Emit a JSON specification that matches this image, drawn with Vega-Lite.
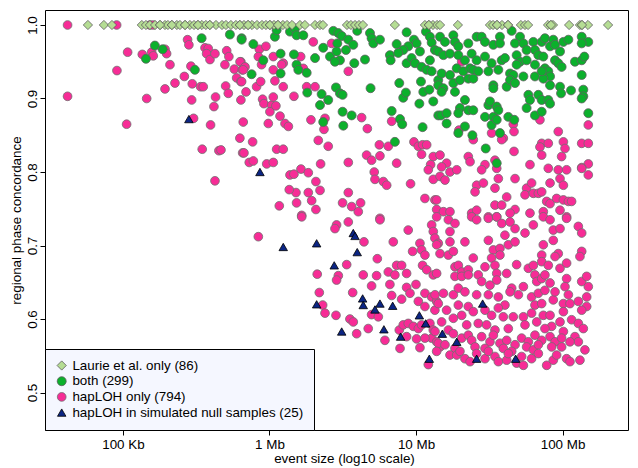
{
"$schema": "https://vega.github.io/schema/vega-lite/v6.json",
"width": 583, "height": 420,
"autosize": {"type": "none"},
"padding": {"left": 45, "top": 10, "right": 10, "bottom": 38},
"background": "white",
"config": {
 "font": "Liberation Sans",
 "view": {"stroke": "black", "strokeWidth": 1},
 "legend": {"orient": "bottom-left", "offset": 0, "fillColor": "#F5F7FF", "strokeColor": "black", "padding": 10, "labelOffset": 4, "rowPadding": 1.7, "clipHeight": 13, "labelFontSize": 13.4, "labelColor": "black", "labelFont": "Liberation Sans", "labelLimit": 400, "symbolStrokeWidth": 0.8}
},
"data": {"values": [
{"g":"H","size":4.622,"conc":1.0},{"g":"H","size":4.957,"conc":1.0},{"g":"H","size":5.184,"conc":1.0},{"g":"H","size":5.207,"conc":1.0},{"g":"H","size":4.622,"conc":0.903},{"g":"H","size":5.032,"conc":0.963},{"g":"H","size":4.959,"conc":0.938},{"g":"H","size":5.132,"conc":0.960},{"g":"H","size":5.196,"conc":0.963},{"g":"H","size":5.207,"conc":0.958},{"g":"H","size":5.287,"conc":0.967},{"g":"H","size":5.298,"conc":0.961},{"g":"H","size":5.321,"conc":0.946},{"g":"H","size":5.162,"conc":0.900},{"g":"H","size":5.025,"conc":0.865},{"g":"H","size":5.287,"conc":0.913},{"g":"H","size":5.355,"conc":0.921},{"g":"H","size":5.419,"conc":0.930},{"g":"H","size":5.441,"conc":0.980},{"g":"H","size":5.450,"conc":0.973},{"g":"H","size":5.464,"conc":0.944},{"g":"H","size":5.473,"conc":0.920},{"g":"H","size":5.469,"conc":0.898},{"g":"H","size":5.482,"conc":0.873},{"g":"H","size":5.530,"conc":0.916},{"g":"H","size":5.548,"conc":0.916},{"g":"H","size":5.560,"conc":0.969},{"g":"H","size":5.582,"conc":0.968},{"g":"H","size":5.571,"conc":0.961},{"g":"H","size":5.594,"conc":0.953},{"g":"H","size":5.628,"conc":0.961},{"g":"H","size":5.541,"conc":0.831},{"g":"H","size":5.598,"conc":0.864},{"g":"H","size":5.621,"conc":0.889},{"g":"H","size":5.632,"conc":0.902},{"g":"H","size":5.655,"conc":0.829},{"g":"H","size":5.669,"conc":0.830},{"g":"H","size":5.628,"conc":0.788},{"g":"H","size":5.696,"conc":0.946},{"g":"H","size":5.708,"conc":0.965},{"g":"H","size":5.723,"conc":0.957},{"g":"H","size":5.701,"conc":0.917},{"g":"H","size":5.719,"conc":0.907},{"g":"H","size":5.760,"conc":0.940},{"g":"H","size":5.776,"conc":0.928},{"g":"H","size":5.805,"conc":0.923},{"g":"H","size":5.805,"conc":0.950},{"g":"H","size":5.814,"conc":0.939},{"g":"H","size":5.805,"conc":0.898},{"g":"H","size":5.821,"conc":0.868},{"g":"H","size":5.798,"conc":0.846},{"g":"H","size":5.817,"conc":0.826},
{"g":"H","size":5.799,"conc":0.950},{"g":"H","size":5.833,"conc":0.943},{"g":"H","size":5.821,"conc":0.939},{"g":"H","size":5.810,"conc":0.923},{"g":"H","size":5.840,"conc":0.909},{"g":"H","size":5.931,"conc":0.967},{"g":"H","size":5.976,"conc":0.971},{"g":"H","size":5.924,"conc":0.957},{"g":"H","size":5.946,"conc":0.946},{"g":"H","size":5.912,"conc":0.916},{"g":"H","size":5.940,"conc":0.923},{"g":"H","size":6.026,"conc":0.957},{"g":"H","size":6.026,"conc":0.939},{"g":"H","size":6.037,"conc":0.924},{"g":"H","size":6.094,"conc":0.916},{"g":"H","size":6.094,"conc":0.948},{"g":"H","size":6.083,"conc":0.946},{"g":"H","size":5.953,"conc":0.899},{"g":"H","size":5.962,"conc":0.893},{"g":"H","size":6.015,"conc":0.891},{"g":"H","size":6.026,"conc":0.902},{"g":"H","size":6.003,"conc":0.882},{"g":"H","size":6.044,"conc":0.890},{"g":"H","size":6.072,"conc":0.876},{"g":"H","size":6.106,"conc":0.866},{"g":"H","size":6.129,"conc":0.862},{"g":"H","size":5.992,"conc":0.866},{"g":"H","size":5.885,"conc":0.841},{"g":"H","size":5.826,"conc":0.826},{"g":"H","size":5.862,"conc":0.813},{"g":"H","size":5.890,"conc":0.815},{"g":"H","size":5.981,"conc":0.811},{"g":"H","size":6.026,"conc":0.813},{"g":"H","size":6.049,"conc":0.831},{"g":"H","size":6.094,"conc":0.831},{"g":"H","size":6.213,"conc":0.957},{"g":"H","size":6.231,"conc":0.941},{"g":"H","size":6.167,"conc":0.903},{"g":"H","size":6.299,"conc":0.977},{"g":"H","size":6.424,"conc":0.975},{"g":"H","size":6.254,"conc":0.916},{"g":"H","size":6.311,"conc":0.916},{"g":"H","size":6.283,"conc":0.871},{"g":"H","size":6.379,"conc":0.873},{"g":"H","size":6.372,"conc":0.858},{"g":"H","size":6.333,"conc":0.843},{"g":"H","size":6.401,"conc":0.835},{"g":"H","size":6.538,"conc":0.937},{"g":"H","size":6.629,"conc":0.874},{"g":"H","size":6.668,"conc":0.859},{"g":"H","size":6.349,"conc":0.811},{"g":"H","size":6.538,"conc":0.813},{"g":"H","size":6.140,"conc":0.796},{"g":"H","size":6.167,"conc":0.797},{"g":"H","size":6.215,"conc":0.804},{"g":"H","size":6.265,"conc":0.799},{"g":"H","size":6.317,"conc":0.787},{"g":"H","size":6.345,"conc":0.775},{"g":"H","size":6.265,"conc":0.772},{"g":"H","size":6.181,"conc":0.772},{"g":"H","size":6.135,"conc":0.776},{"g":"H","size":6.288,"conc":0.761},{"g":"H","size":6.317,"conc":0.749},{"g":"H","size":6.185,"conc":0.758},{"g":"H","size":6.067,"conc":0.754},{"g":"H","size":6.220,"conc":0.741},{"g":"H","size":6.538,"conc":0.772},{"g":"H","size":6.499,"conc":0.758},{"g":"H","size":6.561,"conc":0.753},{"g":"H","size":6.622,"conc":0.758},{"g":"H","size":6.606,"conc":0.746},{"g":"H","size":6.663,"conc":0.823},{"g":"H","size":6.697,"conc":0.816},{"g":"H","size":6.754,"conc":0.822},{"g":"H","size":6.750,"conc":0.837},{"g":"H","size":6.811,"conc":0.835},{"g":"H","size":6.715,"conc":0.800},{"g":"H","size":6.720,"conc":0.790},{"g":"H","size":6.777,"conc":0.787},{"g":"H","size":6.800,"conc":0.782},{"g":"H","size":6.868,"conc":0.812},{"g":"H","size":6.963,"conc":0.784},{"g":"H","size":6.834,"conc":0.869},{"g":"H","size":6.986,"conc":0.841},{"g":"H","size":7.016,"conc":0.835},{"g":"H","size":7.045,"conc":0.837},{"g":"H","size":7.073,"conc":0.837},{"g":"H","size":7.038,"conc":0.824},{"g":"H","size":7.118,"conc":0.821},{"g":"H","size":7.100,"conc":0.810},{"g":"H","size":7.084,"conc":0.803},{"g":"H","size":7.118,"conc":0.790},{"g":"H","size":7.061,"conc":0.764},{"g":"H","size":7.129,"conc":0.762},{"g":"H","size":7.141,"conc":0.749},{"g":"H","size":6.754,"conc":0.737},
{"g":"H","size":7.312,"conc":0.950},{"g":"H","size":7.293,"conc":0.857},{"g":"H","size":7.391,"conc":0.844},{"g":"H","size":7.516,"conc":0.853},{"g":"H","size":7.596,"conc":0.846},{"g":"H","size":7.585,"conc":0.844},{"g":"H","size":7.664,"conc":0.865},{"g":"H","size":7.669,"conc":0.855},{"g":"H","size":7.669,"conc":0.828},{"g":"H","size":7.846,"conc":0.871},{"g":"H","size":7.971,"conc":0.855},{"g":"H","size":7.858,"conc":0.839},{"g":"H","size":7.846,"conc":0.834},{"g":"H","size":7.858,"conc":0.823},{"g":"H","size":7.903,"conc":0.839},{"g":"H","size":8.006,"conc":0.841},{"g":"H","size":8.017,"conc":0.832},{"g":"H","size":7.994,"conc":0.821},{"g":"H","size":8.131,"conc":0.839},{"g":"H","size":8.176,"conc":0.839},{"g":"H","size":8.176,"conc":0.864},{"g":"H","size":8.176,"conc":0.811},{"g":"H","size":8.131,"conc":0.806},{"g":"H","size":8.176,"conc":0.796},{"g":"H","size":7.164,"conc":0.823},{"g":"H","size":7.209,"conc":0.812},{"g":"H","size":7.175,"conc":0.807},{"g":"H","size":7.232,"conc":0.800},{"g":"H","size":7.278,"conc":0.803},{"g":"H","size":7.164,"conc":0.794},{"g":"H","size":7.198,"conc":0.789},{"g":"H","size":7.357,"conc":0.821},{"g":"H","size":7.369,"conc":0.814},{"g":"H","size":7.471,"conc":0.810},{"g":"H","size":7.448,"conc":0.803},{"g":"H","size":7.539,"conc":0.816},{"g":"H","size":7.551,"conc":0.805},{"g":"H","size":7.562,"conc":0.791},{"g":"H","size":7.676,"conc":0.791},{"g":"H","size":7.778,"conc":0.810},{"g":"H","size":7.903,"conc":0.805},{"g":"H","size":7.971,"conc":0.803},{"g":"H","size":8.028,"conc":0.803},{"g":"H","size":7.983,"conc":0.791},{"g":"H","size":8.006,"conc":0.782},{"g":"H","size":7.915,"conc":0.785},{"g":"H","size":8.131,"conc":0.805},{"g":"H","size":7.414,"conc":0.782},{"g":"H","size":7.460,"conc":0.785},{"g":"H","size":7.539,"conc":0.778},{"g":"H","size":7.403,"conc":0.773},{"g":"H","size":7.619,"conc":0.766},{"g":"H","size":7.539,"conc":0.755},{"g":"H","size":7.585,"conc":0.755},{"g":"H","size":7.676,"conc":0.749},{"g":"H","size":7.755,"conc":0.778},{"g":"H","size":7.789,"conc":0.785},{"g":"H","size":7.744,"conc":0.769},{"g":"H","size":7.801,"conc":0.771},{"g":"H","size":7.835,"conc":0.771},{"g":"H","size":7.858,"conc":0.773},{"g":"H","size":7.892,"conc":0.760},{"g":"H","size":7.915,"conc":0.757},{"g":"H","size":7.960,"conc":0.764},{"g":"H","size":8.006,"conc":0.762},{"g":"H","size":8.040,"conc":0.760},{"g":"H","size":8.062,"conc":0.760},{"g":"H","size":7.141,"conc":0.762},{"g":"H","size":7.187,"conc":0.746},{"g":"H","size":7.232,"conc":0.746},{"g":"H","size":7.380,"conc":0.744},{"g":"H","size":7.414,"conc":0.748},{"g":"H","size":7.494,"conc":0.739},{"g":"H","size":7.551,"conc":0.739},{"g":"H","size":7.642,"conc":0.744},{"g":"H","size":7.778,"conc":0.744},{"g":"H","size":7.869,"conc":0.746},{"g":"H","size":7.983,"conc":0.748},{"g":"H","size":8.028,"conc":0.739},
{"g":"H","size":5.924,"conc":0.712},{"g":"H","size":6.220,"conc":0.739},{"g":"H","size":6.458,"conc":0.728},{"g":"H","size":6.447,"conc":0.723},{"g":"H","size":6.538,"conc":0.732},{"g":"H","size":6.754,"conc":0.735},{"g":"H","size":6.947,"conc":0.721},{"g":"H","size":7.107,"conc":0.728},{"g":"H","size":7.118,"conc":0.719},{"g":"H","size":7.129,"conc":0.710},{"g":"H","size":7.152,"conc":0.703},{"g":"H","size":6.645,"conc":0.705},{"g":"H","size":6.845,"conc":0.705},{"g":"H","size":6.736,"conc":0.682},{"g":"H","size":6.527,"conc":0.674},{"g":"H","size":6.326,"conc":0.661},{"g":"H","size":6.470,"conc":0.659},{"g":"H","size":6.458,"conc":0.653},{"g":"H","size":6.640,"conc":0.660},{"g":"H","size":6.731,"conc":0.659},{"g":"H","size":6.811,"conc":0.664},{"g":"H","size":6.856,"conc":0.660},{"g":"H","size":6.868,"conc":0.673},{"g":"H","size":6.902,"conc":0.673},{"g":"H","size":6.936,"conc":0.662},{"g":"H","size":6.977,"conc":0.692},{"g":"H","size":7.027,"conc":0.703},{"g":"H","size":7.038,"conc":0.694},{"g":"H","size":7.061,"conc":0.687},{"g":"H","size":7.045,"conc":0.673},{"g":"H","size":7.073,"conc":0.667},{"g":"H","size":7.118,"conc":0.660},{"g":"H","size":6.697,"conc":0.645},{"g":"H","size":6.822,"conc":0.647},{"g":"H","size":6.936,"conc":0.643},{"g":"H","size":6.959,"conc":0.635},{"g":"H","size":7.000,"conc":0.647},{"g":"H","size":7.061,"conc":0.635},{"g":"H","size":7.107,"conc":0.630},{"g":"H","size":7.141,"conc":0.624},{"g":"H","size":6.340,"conc":0.636},{"g":"H","size":6.568,"conc":0.636},{"g":"H","size":6.834,"conc":0.632},{"g":"H","size":6.902,"conc":0.627},{"g":"H","size":7.016,"conc":0.624},{"g":"H","size":7.061,"conc":0.617},{"g":"H","size":7.129,"conc":0.612},{"g":"H","size":6.363,"conc":0.619},{"g":"H","size":6.379,"conc":0.608},{"g":"H","size":6.454,"conc":0.605},{"g":"H","size":6.549,"conc":0.600},{"g":"H","size":6.572,"conc":0.596},{"g":"H","size":6.697,"conc":0.606},{"g":"H","size":6.743,"conc":0.603},{"g":"H","size":6.595,"conc":0.580},{"g":"H","size":6.674,"conc":0.587},{"g":"H","size":6.788,"conc":0.571},{"g":"H","size":6.891,"conc":0.560},{"g":"H","size":6.886,"conc":0.585},{"g":"H","size":6.913,"conc":0.592},{"g":"H","size":6.947,"conc":0.594},{"g":"H","size":6.982,"conc":0.590},{"g":"H","size":7.016,"conc":0.587},{"g":"H","size":7.038,"conc":0.592},{"g":"H","size":7.095,"conc":0.594},{"g":"H","size":7.118,"conc":0.585},{"g":"H","size":7.107,"conc":0.574},{"g":"H","size":7.141,"conc":0.569},{"g":"H","size":7.164,"conc":0.562},{"g":"H","size":6.936,"conc":0.576},{"g":"H","size":7.004,"conc":0.573},{"g":"H","size":7.061,"conc":0.574},{"g":"H","size":7.027,"conc":0.561},{"g":"H","size":7.084,"conc":0.538},
{"g":"H","size":7.141,"conc":0.739},{"g":"H","size":7.221,"conc":0.735},{"g":"H","size":7.266,"conc":0.730},{"g":"H","size":7.380,"conc":0.739},{"g":"H","size":7.414,"conc":0.735},{"g":"H","size":7.494,"conc":0.737},{"g":"H","size":7.551,"conc":0.739},{"g":"H","size":7.585,"conc":0.730},{"g":"H","size":7.642,"conc":0.732},{"g":"H","size":7.676,"conc":0.723},{"g":"H","size":7.744,"conc":0.717},{"g":"H","size":7.801,"conc":0.728},{"g":"H","size":7.869,"conc":0.739},{"g":"H","size":7.915,"conc":0.735},{"g":"H","size":7.937,"conc":0.721},{"g":"H","size":7.983,"conc":0.723},{"g":"H","size":8.028,"conc":0.737},{"g":"H","size":8.108,"conc":0.726},{"g":"H","size":8.131,"conc":0.717},
{"g":"H","size":7.141,"conc":0.701},{"g":"H","size":7.232,"conc":0.719},{"g":"H","size":7.232,"conc":0.705},{"g":"H","size":7.334,"conc":0.705},{"g":"H","size":7.164,"conc":0.689},{"g":"H","size":7.221,"conc":0.687},{"g":"H","size":7.255,"conc":0.692},{"g":"H","size":7.494,"conc":0.707},{"g":"H","size":7.528,"conc":0.694},{"g":"H","size":7.573,"conc":0.696},{"g":"H","size":7.607,"conc":0.714},{"g":"H","size":7.630,"conc":0.701},{"g":"H","size":7.676,"conc":0.705},{"g":"H","size":7.869,"conc":0.701},{"g":"H","size":7.937,"conc":0.707},{"g":"H","size":7.971,"conc":0.689},{"g":"H","size":7.858,"conc":0.687},{"g":"H","size":8.131,"conc":0.692},{"g":"H","size":8.119,"conc":0.685},
{"g":"H","size":7.141,"conc":0.662},{"g":"H","size":7.266,"conc":0.671},{"g":"H","size":7.289,"conc":0.673},{"g":"H","size":7.312,"conc":0.664},{"g":"H","size":7.357,"conc":0.667},{"g":"H","size":7.391,"conc":0.683},{"g":"H","size":7.425,"conc":0.660},{"g":"H","size":7.471,"conc":0.671},{"g":"H","size":7.516,"conc":0.683},{"g":"H","size":7.539,"conc":0.673},{"g":"H","size":7.573,"conc":0.687},{"g":"H","size":7.551,"conc":0.662},{"g":"H","size":7.619,"conc":0.662},{"g":"H","size":7.687,"conc":0.674},{"g":"H","size":7.767,"conc":0.669},{"g":"H","size":7.801,"conc":0.673},{"g":"H","size":7.812,"conc":0.660},{"g":"H","size":7.858,"conc":0.678},{"g":"H","size":7.903,"conc":0.673},{"g":"H","size":7.949,"conc":0.685},{"g":"H","size":7.983,"conc":0.669},{"g":"H","size":8.028,"conc":0.676},
{"g":"H","size":7.266,"conc":0.658},{"g":"H","size":7.312,"conc":0.658},{"g":"H","size":7.357,"conc":0.660},{"g":"H","size":7.448,"conc":0.651},{"g":"H","size":7.505,"conc":0.646},{"g":"H","size":7.551,"conc":0.653},{"g":"H","size":7.653,"conc":0.642},{"g":"H","size":7.733,"conc":0.644},{"g":"H","size":7.824,"conc":0.651},{"g":"H","size":7.858,"conc":0.655},{"g":"H","size":7.880,"conc":0.660},{"g":"H","size":7.915,"conc":0.649},{"g":"H","size":8.028,"conc":0.655},{"g":"H","size":8.131,"conc":0.651},{"g":"H","size":8.176,"conc":0.644},{"g":"H","size":8.165,"conc":0.658},{"g":"H","size":8.017,"conc":0.644},
{"g":"H","size":7.130,"conc":0.633},{"g":"H","size":7.187,"conc":0.635},{"g":"H","size":7.255,"conc":0.633},{"g":"H","size":7.289,"conc":0.642},{"g":"H","size":7.334,"conc":0.637},{"g":"H","size":7.414,"conc":0.633},{"g":"H","size":7.494,"conc":0.633},{"g":"H","size":7.562,"conc":0.630},{"g":"H","size":7.607,"conc":0.619},{"g":"H","size":7.642,"conc":0.637},{"g":"H","size":7.699,"conc":0.633},{"g":"H","size":7.789,"conc":0.630},{"g":"H","size":7.835,"conc":0.635},{"g":"H","size":7.880,"conc":0.639},{"g":"H","size":7.937,"conc":0.626},{"g":"H","size":7.949,"conc":0.637},{"g":"H","size":8.006,"conc":0.621},{"g":"H","size":8.051,"conc":0.621},{"g":"H","size":8.108,"conc":0.624},{"g":"H","size":8.165,"conc":0.630},{"g":"H","size":8.165,"conc":0.617},{"g":"H","size":8.040,"conc":0.633},{"g":"H","size":7.812,"conc":0.619},{"g":"H","size":7.858,"conc":0.621},
{"g":"H","size":7.152,"conc":0.621},{"g":"H","size":7.209,"conc":0.612},{"g":"H","size":7.289,"conc":0.619},{"g":"H","size":7.357,"conc":0.617},{"g":"H","size":7.391,"conc":0.610},{"g":"H","size":7.471,"conc":0.612},{"g":"H","size":7.516,"conc":0.605},{"g":"H","size":7.562,"conc":0.615},{"g":"H","size":7.596,"conc":0.603},{"g":"H","size":7.664,"conc":0.603},{"g":"H","size":7.733,"conc":0.603},{"g":"H","size":7.789,"conc":0.608},{"g":"H","size":7.824,"conc":0.596},{"g":"H","size":7.869,"conc":0.605},{"g":"H","size":7.915,"conc":0.605},{"g":"H","size":7.926,"conc":0.590},{"g":"H","size":7.983,"conc":0.596},{"g":"H","size":8.062,"conc":0.599},{"g":"H","size":8.108,"conc":0.594},{"g":"H","size":8.142,"conc":0.587},{"g":"H","size":8.131,"conc":0.612},{"g":"H","size":8.006,"conc":0.610},{"g":"H","size":7.175,"conc":0.596},{"g":"H","size":7.255,"conc":0.601},{"g":"H","size":7.312,"conc":0.605},{"g":"H","size":7.346,"conc":0.592},{"g":"H","size":7.425,"conc":0.594},{"g":"H","size":7.482,"conc":0.592},{"g":"H","size":7.539,"conc":0.585},{"g":"H","size":7.630,"conc":0.587},{"g":"H","size":7.744,"conc":0.592},{"g":"H","size":7.880,"conc":0.587},
{"g":"H","size":7.130,"conc":0.583},{"g":"H","size":7.221,"conc":0.585},{"g":"H","size":7.255,"conc":0.580},{"g":"H","size":7.312,"conc":0.574},{"g":"H","size":7.357,"conc":0.578},{"g":"H","size":7.380,"conc":0.571},{"g":"H","size":7.448,"conc":0.576},{"g":"H","size":7.505,"conc":0.569},{"g":"H","size":7.528,"conc":0.578},{"g":"H","size":7.573,"conc":0.567},{"g":"H","size":7.619,"conc":0.571},{"g":"H","size":7.676,"conc":0.565},{"g":"H","size":7.721,"conc":0.574},{"g":"H","size":7.767,"conc":0.569},{"g":"H","size":7.812,"conc":0.578},{"g":"H","size":7.858,"conc":0.571},{"g":"H","size":7.915,"conc":0.576},{"g":"H","size":7.949,"conc":0.569},{"g":"H","size":8.006,"conc":0.583},{"g":"H","size":7.994,"conc":0.574},{"g":"H","size":8.085,"conc":0.576},{"g":"H","size":8.108,"conc":0.569},{"g":"H","size":7.152,"conc":0.567},{"g":"H","size":7.198,"conc":0.565},{"g":"H","size":7.266,"conc":0.560},{"g":"H","size":7.403,"conc":0.562},{"g":"H","size":7.471,"conc":0.560},{"g":"H","size":7.596,"conc":0.560},{"g":"H","size":7.653,"conc":0.556},{"g":"H","size":7.755,"conc":0.562},{"g":"H","size":7.801,"conc":0.558},{"g":"H","size":7.835,"conc":0.565},{"g":"H","size":7.926,"conc":0.562},{"g":"H","size":7.994,"conc":0.562},{"g":"H","size":8.153,"conc":0.558},{"g":"H","size":8.051,"conc":0.569},
{"g":"H","size":7.141,"conc":0.556},{"g":"H","size":7.232,"conc":0.551},{"g":"H","size":7.278,"conc":0.551},{"g":"H","size":7.334,"conc":0.546},{"g":"H","size":7.369,"conc":0.542},{"g":"H","size":7.471,"conc":0.546},{"g":"H","size":7.539,"conc":0.549},{"g":"H","size":7.562,"conc":0.542},{"g":"H","size":7.619,"conc":0.544},{"g":"H","size":7.687,"conc":0.540},{"g":"H","size":7.733,"conc":0.537},{"g":"H","size":7.789,"conc":0.546},{"g":"H","size":7.835,"conc":0.553},{"g":"H","size":7.892,"conc":0.537},{"g":"H","size":7.937,"conc":0.544},{"g":"H","size":7.960,"conc":0.551},{"g":"H","size":8.028,"conc":0.546},{"g":"H","size":8.051,"conc":0.542},{"g":"H","size":8.119,"conc":0.544},{"g":"H","size":7.721,"conc":0.549},{"g":"H","size":7.630,"conc":0.553},{"g":"H","size":7.494,"conc":0.556},{"g":"H","size":7.414,"conc":0.553},{"g":"H","size":7.300,"conc":0.556},
{"g":"B","size":5.537,"conc":0.982},{"g":"B","size":5.730,"conc":0.987},{"g":"B","size":5.810,"conc":0.982},{"g":"B","size":5.218,"conc":0.972},{"g":"B","size":5.271,"conc":0.967},{"g":"B","size":5.157,"conc":0.954},{"g":"B","size":5.491,"conc":0.939},
{"g":"B","size":5.810,"conc":0.980},{"g":"B","size":5.890,"conc":0.974},{"g":"B","size":6.037,"conc":0.984},{"g":"B","size":6.049,"conc":0.993},{"g":"B","size":6.140,"conc":0.991},{"g":"B","size":6.174,"conc":0.995},{"g":"B","size":6.185,"conc":0.986},{"g":"B","size":6.231,"conc":0.986},{"g":"B","size":5.958,"conc":0.952},{"g":"B","size":6.076,"conc":0.961},{"g":"B","size":6.167,"conc":0.960},{"g":"B","size":6.185,"conc":0.946},{"g":"B","size":6.197,"conc":0.939},{"g":"B","size":6.254,"conc":0.935},{"g":"B","size":6.076,"conc":0.934},{"g":"B","size":5.878,"conc":0.933},{"g":"B","size":6.311,"conc":0.955},{"g":"B","size":6.367,"conc":0.969},{"g":"B","size":6.413,"conc":0.957},{"g":"B","size":6.436,"conc":0.992},{"g":"B","size":6.470,"conc":0.989},{"g":"B","size":6.493,"conc":0.985},{"g":"B","size":6.463,"conc":0.975},{"g":"B","size":6.458,"conc":0.964},{"g":"B","size":6.481,"conc":0.952},{"g":"B","size":6.522,"conc":0.966},{"g":"B","size":6.538,"conc":0.980},{"g":"B","size":6.572,"conc":0.973},{"g":"B","size":6.447,"conc":0.950},{"g":"B","size":6.579,"conc":0.948},{"g":"B","size":6.652,"conc":0.953},{"g":"B","size":6.599,"conc":0.992},{"g":"B","size":6.686,"conc":0.989},{"g":"B","size":6.697,"conc":0.982},{"g":"B","size":6.709,"conc":0.975},{"g":"B","size":6.754,"conc":0.980},{"g":"B","size":6.356,"conc":0.906},{"g":"B","size":6.401,"conc":0.898},{"g":"B","size":6.345,"conc":0.891},{"g":"B","size":6.454,"conc":0.915},{"g":"B","size":6.481,"conc":0.907},{"g":"B","size":6.499,"conc":0.905},{"g":"B","size":6.258,"conc":0.908},{"g":"B","size":6.367,"conc":0.868},{"g":"B","size":6.499,"conc":0.882},{"g":"B","size":6.561,"conc":0.877},{"g":"B","size":6.504,"conc":0.863},{"g":"B","size":6.690,"conc":0.914},{"g":"B","size":6.834,"conc":0.883},{"g":"B","size":6.891,"conc":0.872},{"g":"B","size":6.906,"conc":0.865},{"g":"B","size":6.856,"conc":0.841},{"g":"B","size":7.045,"conc":0.861},{"g":"B","size":6.868,"conc":0.974},{"g":"B","size":6.822,"conc":0.959},{"g":"B","size":6.827,"conc":0.952},{"g":"B","size":6.886,"conc":0.921},{"g":"B","size":6.936,"conc":0.990},{"g":"B","size":6.986,"conc":0.980},{"g":"B","size":7.004,"conc":0.975},{"g":"B","size":6.947,"conc":0.971},{"g":"B","size":6.913,"conc":0.966},{"g":"B","size":6.879,"conc":0.962},{"g":"B","size":6.936,"conc":0.948},{"g":"B","size":6.970,"conc":0.955},{"g":"B","size":6.993,"conc":0.948},{"g":"B","size":7.027,"conc":0.964},{"g":"B","size":7.038,"conc":0.943},{"g":"B","size":7.073,"conc":0.939},{"g":"B","size":6.913,"conc":0.901},{"g":"B","size":6.931,"conc":0.908},{"g":"B","size":7.023,"conc":0.893},{"g":"B","size":7.050,"conc":0.909},{"g":"B","size":7.091,"conc":0.912},{"g":"B","size":7.118,"conc":0.896},{"g":"B","size":7.152,"conc":0.877},{"g":"B","size":7.034,"conc":0.923},{"g":"B","size":7.095,"conc":0.952},{"g":"B","size":7.068,"conc":0.991},{"g":"B","size":7.095,"conc":0.984},{"g":"B","size":7.107,"conc":0.976},{"g":"B","size":7.129,"conc":0.966},{"g":"B","size":7.107,"conc":0.937},{"g":"B","size":7.152,"conc":0.925},
{"g":"B","size":7.164,"conc":0.984},{"g":"B","size":7.198,"conc":0.977},{"g":"B","size":7.255,"conc":0.986},{"g":"B","size":7.266,"conc":0.977},{"g":"B","size":7.289,"conc":0.971},{"g":"B","size":7.357,"conc":0.975},{"g":"B","size":7.414,"conc":0.984},{"g":"B","size":7.448,"conc":0.984},{"g":"B","size":7.471,"conc":0.977},{"g":"B","size":7.528,"conc":0.973},{"g":"B","size":7.573,"conc":0.984},{"g":"B","size":7.573,"conc":0.975},{"g":"B","size":7.152,"conc":0.964},{"g":"B","size":7.187,"conc":0.959},{"g":"B","size":7.232,"conc":0.961},{"g":"B","size":7.289,"conc":0.959},{"g":"B","size":7.334,"conc":0.952},{"g":"B","size":7.380,"conc":0.961},{"g":"B","size":7.414,"conc":0.952},{"g":"B","size":7.471,"conc":0.957},{"g":"B","size":7.516,"conc":0.948},{"g":"B","size":7.585,"conc":0.952},{"g":"B","size":7.607,"conc":0.955},{"g":"B","size":7.175,"conc":0.934},{"g":"B","size":7.232,"conc":0.932},{"g":"B","size":7.278,"conc":0.941},{"g":"B","size":7.323,"conc":0.937},{"g":"B","size":7.369,"conc":0.941},{"g":"B","size":7.391,"conc":0.939},{"g":"B","size":7.425,"conc":0.937},{"g":"B","size":7.494,"conc":0.937},{"g":"B","size":7.562,"conc":0.939},{"g":"B","size":7.642,"conc":0.934},{"g":"B","size":7.664,"conc":0.932},{"g":"B","size":7.152,"conc":0.918},{"g":"B","size":7.187,"conc":0.914},{"g":"B","size":7.175,"conc":0.909},{"g":"B","size":7.255,"conc":0.921},{"g":"B","size":7.266,"conc":0.909},{"g":"B","size":7.300,"conc":0.925},{"g":"B","size":7.357,"conc":0.927},{"g":"B","size":7.391,"conc":0.927},{"g":"B","size":7.528,"conc":0.918},{"g":"B","size":7.528,"conc":0.914},{"g":"B","size":7.619,"conc":0.916},{"g":"B","size":7.642,"conc":0.925},{"g":"B","size":7.676,"conc":0.921},{"g":"B","size":7.334,"conc":0.898},{"g":"B","size":7.300,"conc":0.887},{"g":"B","size":7.289,"conc":0.880},{"g":"B","size":7.357,"conc":0.884},{"g":"B","size":7.391,"conc":0.884},{"g":"B","size":7.171,"conc":0.877},{"g":"B","size":7.209,"conc":0.866},{"g":"B","size":7.209,"conc":0.880},{"g":"B","size":7.494,"conc":0.891},{"g":"B","size":7.505,"conc":0.896},{"g":"B","size":7.551,"conc":0.889},{"g":"B","size":7.562,"conc":0.884},{"g":"B","size":7.471,"conc":0.875},{"g":"B","size":7.528,"conc":0.875},{"g":"B","size":7.516,"conc":0.864},{"g":"B","size":7.551,"conc":0.871},{"g":"B","size":7.573,"conc":0.853},{"g":"B","size":7.630,"conc":0.875},{"g":"B","size":7.671,"conc":0.871},{"g":"B","size":7.334,"conc":0.862},{"g":"B","size":7.289,"conc":0.853},{"g":"B","size":7.385,"conc":0.850},{"g":"B","size":7.476,"conc":0.832},{"g":"B","size":7.551,"conc":0.812},
{"g":"B","size":7.653,"conc":0.992},{"g":"B","size":7.710,"conc":0.984},{"g":"B","size":7.676,"conc":0.975},{"g":"B","size":7.733,"conc":0.975},{"g":"B","size":7.755,"conc":0.966},{"g":"B","size":7.801,"conc":0.977},{"g":"B","size":7.812,"conc":0.966},{"g":"B","size":7.835,"conc":0.959},{"g":"B","size":7.858,"conc":0.977},{"g":"B","size":7.880,"conc":0.982},{"g":"B","size":7.915,"conc":0.971},{"g":"B","size":7.937,"conc":0.980},{"g":"B","size":7.949,"conc":0.973},{"g":"B","size":8.006,"conc":0.977},{"g":"B","size":8.040,"conc":0.980},{"g":"B","size":7.983,"conc":0.964},{"g":"B","size":7.687,"conc":0.959},{"g":"B","size":7.710,"conc":0.950},{"g":"B","size":7.755,"conc":0.952},{"g":"B","size":7.812,"conc":0.946},{"g":"B","size":7.869,"conc":0.957},{"g":"B","size":7.880,"conc":0.941},{"g":"B","size":7.903,"conc":0.937},{"g":"B","size":7.915,"conc":0.930},{"g":"B","size":7.949,"conc":0.952},{"g":"B","size":7.971,"conc":0.948},{"g":"B","size":7.994,"conc":0.943},{"g":"B","size":7.915,"conc":0.918},{"g":"B","size":7.733,"conc":0.930},{"g":"B","size":7.812,"conc":0.930},{"g":"B","size":7.869,"conc":0.927},{"g":"B","size":7.858,"conc":0.937},{"g":"B","size":7.687,"conc":0.946},{"g":"B","size":7.767,"conc":0.905},{"g":"B","size":7.778,"conc":0.898},{"g":"B","size":7.835,"conc":0.905},{"g":"B","size":7.858,"conc":0.898},{"g":"B","size":7.903,"conc":0.898},{"g":"B","size":7.915,"conc":0.893},{"g":"B","size":7.755,"conc":0.887},{"g":"B","size":7.812,"conc":0.877},{"g":"B","size":7.858,"conc":0.882},{"g":"B","size":7.983,"conc":0.916},{"g":"B","size":7.990,"conc":0.907},{"g":"B","size":8.058,"conc":0.911},{"g":"B","size":8.085,"conc":0.950},{"g":"B","size":8.131,"conc":0.952},{"g":"B","size":8.149,"conc":0.957},{"g":"B","size":8.131,"conc":0.932},{"g":"B","size":8.142,"conc":0.912},{"g":"B","size":8.142,"conc":0.903},{"g":"B","size":8.131,"conc":0.984},{"g":"B","size":8.176,"conc":0.977},{"g":"B","size":8.131,"conc":0.975},{"g":"B","size":8.176,"conc":0.880},{"g":"B","size":8.131,"conc":0.900},
{"g":"L","size":4.761,"conc":1.0},{"g":"L","size":4.870,"conc":1.0},{"g":"L","size":4.925,"conc":1.0},{"g":"L","size":5.129,"conc":1.0},{"g":"L","size":5.157,"conc":1.0},{"g":"L","size":5.184,"conc":1.0},{"g":"L","size":5.219,"conc":1.0},{"g":"L","size":5.253,"conc":1.0},{"g":"L","size":5.287,"conc":1.0},{"g":"L","size":5.307,"conc":1.0},{"g":"L","size":5.334,"conc":1.0},{"g":"L","size":5.368,"conc":1.0},{"g":"L","size":5.389,"conc":1.0},{"g":"L","size":5.424,"conc":1.0},{"g":"L","size":5.457,"conc":1.0},{"g":"L","size":5.485,"conc":1.0},{"g":"L","size":5.512,"conc":1.0},{"g":"L","size":5.539,"conc":1.0},{"g":"L","size":5.566,"conc":1.0},{"g":"L","size":5.593,"conc":1.0},{"g":"L","size":5.635,"conc":1.0},{"g":"L","size":5.676,"conc":1.0},{"g":"L","size":5.703,"conc":1.0},{"g":"L","size":5.737,"conc":1.0},{"g":"L","size":5.771,"conc":1.0},{"g":"L","size":5.798,"conc":1.0},{"g":"L","size":5.826,"conc":1.0},{"g":"L","size":5.854,"conc":1.0},{"g":"L","size":5.881,"conc":1.0},{"g":"L","size":5.915,"conc":1.0},{"g":"L","size":5.949,"conc":1.0},{"g":"L","size":5.976,"conc":1.0},{"g":"L","size":6.003,"conc":1.0},{"g":"L","size":6.031,"conc":1.0},{"g":"L","size":6.058,"conc":1.0},{"g":"L","size":6.092,"conc":1.0},{"g":"L","size":6.120,"conc":1.0},{"g":"L","size":6.154,"conc":1.0},{"g":"L","size":6.208,"conc":1.0},{"g":"L","size":6.242,"conc":1.0},{"g":"L","size":6.311,"conc":1.0},{"g":"L","size":6.345,"conc":1.0},{"g":"L","size":6.365,"conc":1.0},{"g":"L","size":6.529,"conc":1.0},{"g":"L","size":6.556,"conc":1.0},{"g":"L","size":6.584,"conc":1.0},{"g":"L","size":6.611,"conc":1.0},{"g":"L","size":6.638,"conc":1.0},{"g":"L","size":6.856,"conc":1.0},{"g":"L","size":7.061,"conc":1.0},{"g":"L","size":7.088,"conc":1.0},{"g":"L","size":7.116,"conc":1.0},{"g":"L","size":7.144,"conc":1.0},{"g":"L","size":7.164,"conc":1.0},{"g":"L","size":7.286,"conc":1.0},{"g":"L","size":7.505,"conc":1.0},{"g":"L","size":7.526,"conc":1.0},{"g":"L","size":7.553,"conc":1.0},{"g":"L","size":7.587,"conc":1.0},{"g":"L","size":7.628,"conc":1.0},{"g":"L","size":7.716,"conc":1.0},{"g":"L","size":7.744,"conc":1.0},{"g":"L","size":7.765,"conc":1.0},{"g":"L","size":7.901,"conc":1.0},{"g":"L","size":7.921,"conc":1.0},{"g":"L","size":7.935,"conc":1.0},{"g":"L","size":8.045,"conc":1.0},{"g":"L","size":8.119,"conc":1.0},{"g":"L","size":8.133,"conc":1.0},{"g":"L","size":8.174,"conc":1.0},{"g":"L","size":8.311,"conc":1.0},{"g":"L","size":5.253,"conc":1.0},{"g":"L","size":5.334,"conc":1.0},{"g":"L","size":5.424,"conc":1.0},{"g":"L","size":5.512,"conc":1.0},{"g":"L","size":5.593,"conc":1.0},{"g":"L","size":5.798,"conc":1.0},{"g":"L","size":5.854,"conc":1.0},{"g":"L","size":6.003,"conc":1.0},{"g":"L","size":6.058,"conc":1.0},{"g":"L","size":7.088,"conc":1.0},{"g":"L","size":7.553,"conc":1.0},{"g":"L","size":7.628,"conc":1.0},{"g":"L","size":7.921,"conc":1.0},{"g":"L","size":8.133,"conc":1.0},
{"g":"N","size":5.450,"conc":0.872},{"g":"N","size":5.935,"conc":0.800},{"g":"N","size":6.094,"conc":0.698},{"g":"N","size":6.322,"conc":0.703},{"g":"N","size":6.572,"conc":0.717},{"g":"N","size":6.584,"conc":0.713},{"g":"N","size":6.599,"conc":0.691},{"g":"N","size":6.442,"conc":0.673},{"g":"N","size":6.322,"conc":0.620},{"g":"N","size":6.636,"conc":0.628},{"g":"N","size":6.640,"conc":0.619},{"g":"N","size":6.754,"conc":0.621},{"g":"N","size":6.720,"conc":0.613},{"g":"N","size":6.841,"conc":0.618},{"g":"N","size":6.493,"conc":0.583},{"g":"N","size":6.781,"conc":0.586},{"g":"N","size":6.895,"conc":0.576},{"g":"N","size":7.023,"conc":0.605},{"g":"N","size":7.066,"conc":0.594},{"g":"N","size":7.091,"conc":0.546},{"g":"N","size":7.455,"conc":0.621},{"g":"N","size":7.180,"conc":0.580},{"g":"N","size":7.278,"conc":0.569},{"g":"N","size":7.414,"conc":0.546},{"g":"N","size":7.680,"conc":0.546}
]},
"mark": {"type": "point", "filled": true, "opacity": 1, "strokeWidth": 0.8, "strokeOpacity": 1},
"encoding": {
 "x": {"field": "size", "type": "quantitative", "scale": {"domain": [4.468, 8.447], "nice": false, "zero": false},
  "axis": {"values": [5, 6, 7, 8], "labelExpr": "datum.value == 5 ? '100 Kb' : datum.value == 6 ? '1 Mb' : datum.value == 7 ? '10 Mb' : '100 Mb'", "title": "event size (log10 scale)", "grid": false, "domain": false, "ticks": true, "tickColor": "black", "tickSize": 5, "labelFontSize": 13.4, "labelColor": "black", "labelPadding": 2, "labelFont": "Liberation Sans", "titleFont": "Liberation Sans", "titleFontSize": 13.4, "titleFontWeight": "normal", "titleColor": "black", "titlePadding": 1, "titleX": 299, "titleAlign": "center"}},
 "y": {"field": "conc", "type": "quantitative", "scale": {"domain": [0.449, 1.0204], "nice": false, "zero": false},
  "axis": {"values": [0.5, 0.6, 0.7, 0.8, 0.9, 1.0], "format": ".1f", "title": "regional phase concordance", "grid": false, "domain": false, "tickColor": "black", "tickSize": 5, "labelAngle": -90, "labelAlign": "center", "labelBaseline": "bottom", "labelPadding": 1, "labelFontSize": 13.4, "labelColor": "black", "labelFont": "Liberation Sans", "titleFont": "Liberation Sans", "titleFontSize": 13.4, "titleFontWeight": "normal", "titleColor": "black", "titleAngle": -90, "titleAlign": "center", "titleBaseline": "bottom", "titleX": -22, "titleY": 210}},
 "fill": {"field": "g", "type": "nominal", "scale": {"domain": ["L", "B", "H", "N"], "range": ["#B5DD94", "#0CB02C", "#F72C96", "#0B2584"]},
  "legend": {"title": null, "labelExpr": "datum.value == 'L' ? 'Laurie et al. only (86)' : datum.value == 'B' ? 'both (299)' : datum.value == 'H' ? 'hapLOH only (794)' : 'hapLOH in simulated null samples (25)'"}},
 "stroke": {"field": "g", "type": "nominal", "scale": {"domain": ["L", "B", "H", "N"], "range": ["#5A5A5A", "#5F5F5F", "#707070", "#000000"]},
  "legend": {"title": null, "labelExpr": "datum.value == 'L' ? 'Laurie et al. only (86)' : datum.value == 'B' ? 'both (299)' : datum.value == 'H' ? 'hapLOH only (794)' : 'hapLOH in simulated null samples (25)'"}},
 "shape": {"field": "g", "type": "nominal", "scale": {"domain": ["L", "B", "H", "N"], "range": ["diamond", "circle", "circle", "triangle-up"]},
  "legend": {"title": null, "labelExpr": "datum.value == 'L' ? 'Laurie et al. only (86)' : datum.value == 'B' ? 'both (299)' : datum.value == 'H' ? 'hapLOH only (794)' : 'hapLOH in simulated null samples (25)'"}},
 "size": {"field": "g", "type": "nominal", "scale": {"domain": ["L", "B", "H", "N"], "range": [85, 72, 72, 140]},
  "legend": {"title": null, "labelExpr": "datum.value == 'L' ? 'Laurie et al. only (86)' : datum.value == 'B' ? 'both (299)' : datum.value == 'H' ? 'hapLOH only (794)' : 'hapLOH in simulated null samples (25)'"}}
}
}
